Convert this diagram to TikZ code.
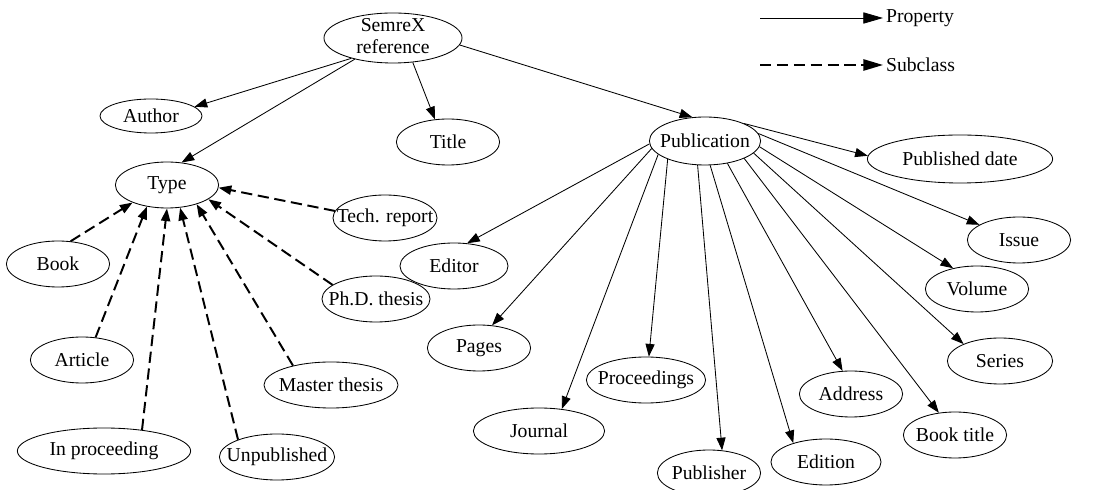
\documentclass[tikz,border=0pt]{standalone}
\usepackage{fontspec}
\setmainfont{Liberation Serif}
\usepackage{tikz}
\usetikzlibrary{shapes.geometric,arrows.meta}
\newcommand\nodesemrex{\begin{tabular}{@{}c@{}}SemreX\\reference\end{tabular}}
\newcommand\nodeauthor{Author}
\newcommand\nodetitle{Title}
\newcommand\nodetype{Type}
\newcommand\nodepub{Publication}
\newcommand\nodepubdate{Published date}
\newcommand\nodetech{Tech. report}
\newcommand\nodephd{Ph.D. thesis}
\newcommand\nodemaster{Master thesis}
\newcommand\nodeunpub{Unpublished}
\newcommand\nodeinproc{In proceeding}
\newcommand\nodearticle{Article}
\newcommand\nodebook{Book}
\newcommand\nodeeditor{Editor}
\newcommand\nodepages{Pages}
\newcommand\nodejournal{Journal}
\newcommand\nodeproc{Proceedings}
\newcommand\nodepublisher{Publisher}
\newcommand\nodeedition{Edition}
\newcommand\nodeaddress{Address}
\newcommand\nodebooktitle{Book title}
\newcommand\nodeseries{Series}
\newcommand\nodevolume{Volume}
\newcommand\nodeissue{Issue}
\tikzstyle{en} = [ellipse, draw, line width=0.6pt, minimum width=2.58cm, minimum height=1.15cm, inner sep=0pt, font=\fontsize{14}{16}\selectfont, execute at begin node={\hbox to 0pt\bgroup\hss}, execute at end node={\hss\egroup}]
\tikzstyle{pe} = [-{Triangle[length=9pt,width=6.5pt]}, line width=0.6pt]
\tikzstyle{se} = [pe, line width=1.4pt, dash pattern=on 8pt off 4pt]
\tikzstyle{lg} = [anchor=west, inner sep=2pt, font=\fontsize{14}{16}\selectfont]
\tikzstyle{lgtip} = [-{Triangle[length=14pt,width=8pt]}]
\begin{document}
\begin{tikzpicture}[x=0.025cm, y=-0.025cm]
\useasboundingbox (0,0) rectangle (1098,490);
% legend
\coordinate (lgp) at (760,18);
\coordinate (lgs) at (760,65);
\node[lg] (lgprop) at (883,18) {Property};
\node[lg] (lgsub) at (883,65) {Subclass};
\draw [pe, lgtip] (lgp) -- (lgprop);
\draw [se, lgtip] (lgs) -- (lgsub);
% classes
\node[en, minimum width=3.45cm, minimum height=1.25cm, inner ysep=-3.5pt] (semrex) at (393,38) {\nodesemrex};
\node[en, minimum width=2.55cm, minimum height=0.85cm] (author) at (151,116) {\nodeauthor};
\node[en] (title) at (448,142) {\nodetitle};
\node[en] (type) at (167,185) {\nodetype};
\node[en, minimum width=2.78cm, minimum height=1.2cm] (pub) at (705,141) {\nodepub};
\node[en, minimum width=4.63cm, minimum height=1.2cm] (pubdate) at (960,159) {\nodepubdate};
% subclasses of type
\node[en, minimum width=2.6cm] (tech) at (385,218) {\nodetech};
\node[en, minimum width=2.7cm] (phd) at (376,299) {\nodephd};
\node[en, minimum width=3.35cm] (master) at (331,385) {\nodemaster};
\node[en, minimum width=2.88cm] (unpub) at (277,457) {\nodeunpub};
\node[en, minimum width=4.33cm] (inproc) at (104,451) {\nodeinproc};
\node[en] (article) at (82,360) {\nodearticle};
\node[en] (book) at (58,264) {\nodebook};
% properties of publication
\node[en, minimum width=2.7cm] (editor) at (454,266) {\nodeeditor};
\node[en] (pages) at (479,348) {\nodepages};
\node[en, minimum width=3.28cm] (journal) at (539,431) {\nodejournal};
\node[en, minimum width=2.98cm] (proc) at (646,380) {\nodeproc};
\node[en] (publisher) at (709,473) {\nodepublisher};
\node[en, minimum width=2.75cm] (edition) at (826,462) {\nodeedition};
\node[en] (address) at (851,394) {\nodeaddress};
\node[en] (booktitle) at (955,435) {\nodebooktitle};
\node[en, minimum width=2.63cm] (series) at (1000,361) {\nodeseries};
\node[en] (volume) at (977,289) {\nodevolume};
\node[en] (issue) at (1019,240) {\nodeissue};
% property edges
\draw [pe] (semrex.206) -- (author.12);
\draw [pe] (semrex.209) -- (type.57);
\draw [pe] (semrex.309) -- (title.120);
\draw [pe] (semrex.354) -- (pub.118);
\draw [pe] (pub.24) -- (pubdate.178);
\draw [pe] (pub.8) -- (issue.159);
\draw [pe] (pub.354) -- (volume.139);
\draw [pe] (pub.346) -- (series.155);
\draw [pe] (pub.336) -- (booktitle.126);
\draw [pe] (pub.315) -- (address.110);
\draw [pe] (pub.282) -- (edition.150);
\draw [pe] (pub.253) -- (publisher.60);
\draw [pe] (pub.206) -- (proc.83);
\draw [pe] (pub.196) -- (journal.44);
\draw [pe] (pub.188) -- (pages.60);
\draw [pe] (pub.183) -- (editor.60);
% subclass edges
\draw [se] (tech.172) -- (type.357);
\draw [se] (phd.162) -- (type.341);
\draw [se] (master.153) -- (type.327);
\draw [se] (unpub.156) -- (type.300);
\draw [se] (inproc.29) -- (type.270);
\draw [se] (article.59) -- (type.227);
\draw [se] (book.61) -- (type.207);
\end{tikzpicture}
\end{document}
